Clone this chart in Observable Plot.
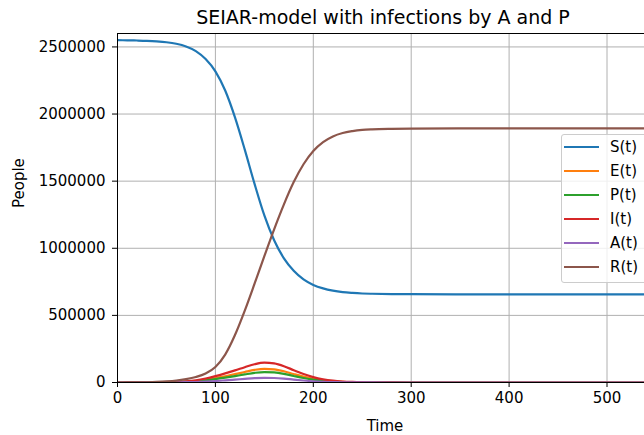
<!DOCTYPE html>
<html>
<head>
<meta charset="utf-8">
<script src="https://cdn.jsdelivr.net/npm/d3@7"></script>
<script src="https://cdn.jsdelivr.net/npm/@observablehq/plot@0.6"></script>
<style>
  html, body { margin: 0; padding: 0; background: #fff; }
  #fig { position: relative; width: 644px; height: 435px; overflow: hidden; font-family: "DejaVu Sans", sans-serif; color: #000; }
  #title { height: 28px; box-sizing: border-box; padding-top: 6px; margin-left: 117px; width: 532px; text-align: center; font-size: 19px; line-height: normal; white-space: nowrap; }
  #legend { position: absolute; left: 561px; top: 134px; width: 100px; height: 149px; box-sizing: border-box; border: 1px solid #cccccc; border-radius: 3px; background: rgba(255,255,255,0.8); }
  .entry { position: absolute; left: 0; height: 20px; width: 100px; }
  .entry .swatch { position: absolute; left: 2px; top: 9px; width: 35px; height: 0; border-top: 2.2px solid; }
  .entry .name { position: absolute; left: 48px; top: 0; font-size: 15px; line-height: 20px; }
</style>
</head>
<body>
<div id="fig">
  <div id="title">SEIAR-model with infections by A and P</div>
  <div id="chart"></div>
  <div id="legend"></div>
</div>
<script>
// Simulation output sampled every 10 days (coarser once the epidemic has died out)
const times = [0, 10, 20, 30, 40, 50, 60, 70, 80, 90, 100, 110, 120, 130, 140, 150, 160, 170, 180, 190, 200, 210, 220, 230, 240, 250, 260, 280, 300, 350, 400, 450, 500, 550];

const susceptible = [2550000, 2549100, 2547700, 2545500, 2541500, 2535000, 2523500, 2503500, 2469000, 2410000, 2318000, 2175000, 1975000, 1735000, 1480000, 1245000, 1060000, 925000, 832000, 768000, 727000, 701000, 684000, 673000, 667000, 663000, 661000, 659000, 658000, 657000, 657000, 657000, 657000, 657000];
const exposed = [0, 200, 400, 700, 1200, 2000, 3600, 6100, 11200, 20400, 32600, 46900, 62200, 78500, 93800, 102000, 97900, 83600, 63200, 43900, 27500, 16300, 9200, 5100, 2900, 1500, 800, 300, 100, 0, 0, 0, 0, 0];
const presymptomatic = [0, 160, 310, 550, 940, 1600, 2700, 4700, 8600, 15600, 25000, 35900, 47600, 60100, 71800, 78000, 74900, 64000, 48400, 33500, 21100, 12500, 7000, 3900, 2200, 1200, 600, 200, 100, 0, 0, 0, 0, 0];
const infected = [0, 300, 600, 1000, 1800, 3000, 5200, 8900, 16300, 29600, 47400, 68100, 90300, 114000, 136200, 148000, 142100, 121400, 91800, 63600, 40000, 23700, 13300, 7400, 4100, 2200, 1200, 400, 150, 0, 0, 0, 0, 0];
const asymptomatic = [0, 70, 140, 250, 420, 700, 1200, 2100, 3900, 7000, 11200, 16100, 21400, 27000, 32200, 35000, 33600, 28700, 21700, 15100, 9500, 5600, 3200, 1800, 1000, 500, 300, 100, 0, 0, 0, 0, 0, 0];
const recovered = [0, 200, 850, 2000, 4100, 7700, 13800, 24700, 41000, 67400, 115800, 208000, 353500, 535400, 736000, 942000, 1141500, 1327300, 1492900, 1625900, 1724900, 1790900, 1833300, 1858800, 1872800, 1881600, 1886100, 1890000, 1891600, 1893000, 1893000, 1893000, 1893000, 1893000];

const seriesNames = ["S(t)", "E(t)", "P(t)", "I(t)", "A(t)", "R(t)"];
const seriesValues = [susceptible, exposed, presymptomatic, infected, asymptomatic, recovered];
const seriesColors = ["#1f77b4", "#ff7f0e", "#2ca02c", "#d62728", "#9467bd", "#8c564b"];

const xTicks = [0, 100, 200, 300, 400, 500];
const yTicks = [0, 500000, 1000000, 1500000, 2000000, 2500000];

// long-format table: one row per (compartment, time)
const rows = seriesNames.flatMap((name, k) =>
  times.map((t, i) => ({name, t, people: seriesValues[k][i]}))
);

const gridStyle = {stroke: "#b0b0b0", strokeOpacity: 1, strokeWidth: 1};
const axisStyle = {tickSize: 5, fontSize: 15, tickFormat: d3.format("d"), label: null};

const chart = Plot.plot({
  width: 644,
  height: 407,
  marginLeft: 117,
  marginRight: 0,
  marginTop: 5,
  marginBottom: 53,
  style: {fontFamily: "DejaVu Sans", fontSize: "15px", background: "white", color: "black"},
  x: {domain: [0, 538.3]},
  y: {domain: [0, 2600000]},
  color: {domain: seriesNames, range: seriesColors},
  marks: [
    Plot.gridX(xTicks.slice(1), gridStyle),
    Plot.gridY(yTicks.slice(1), gridStyle),
    Plot.line(rows, {x: "t", y: "people", z: "name", stroke: "name", strokeWidth: 2.2, curve: "monotone-x", clip: true}),
    Plot.ruleX([0], {stroke: "black", strokeWidth: 1}),
    Plot.ruleY([0, 2600000], {stroke: "black", strokeWidth: 1}),
    Plot.axisX(xTicks, {...axisStyle, tickPadding: 5}),
    Plot.axisY(yTicks, {...axisStyle, tickPadding: 7}),
    Plot.text(["People"], {frameAnchor: "left", rotate: -90, dx: -98, fontSize: 15}),
    Plot.text(["Time"], {frameAnchor: "bottom", lineAnchor: "bottom", dx: 4, dy: 48, fontSize: 15})
  ]
});
document.getElementById("chart").appendChild(chart);

// legend box in the upper right of the axes
const legend = document.getElementById("legend");
seriesNames.forEach((name, k) => {
  const entry = document.createElement("div");
  entry.className = "entry";
  entry.style.top = (2 + 24 * k) + "px";
  const swatch = document.createElement("span");
  swatch.className = "swatch";
  swatch.style.borderTopColor = seriesColors[k];
  const label = document.createElement("span");
  label.className = "name";
  label.textContent = name;
  entry.appendChild(swatch);
  entry.appendChild(label);
  legend.appendChild(entry);
});
</script>
</body>
</html>
